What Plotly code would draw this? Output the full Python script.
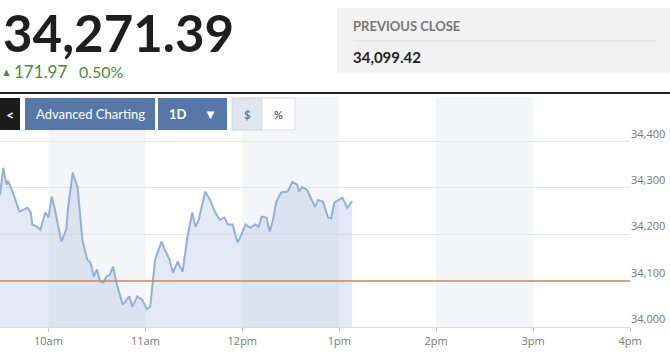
import plotly.graph_objects as go

# ---- data ----
times = ["09:30","09:32","09:34","09:35","09:38","09:42","09:47","09:49","09:50","09:53","09:55","09:58",
         "10:00","10:02","10:04","10:08","10:11","10:12","10:15","10:18","10:21","10:24","10:26","10:28",
         "10:30","10:32","10:34","10:36","10:38","10:40","10:42","10:46","10:50","10:52","10:55","10:58",
         "11:01","11:03","11:06","11:10","11:12","11:15","11:17","11:20","11:23","11:26","11:29","11:31",
         "11:33","11:36","11:37","11:40","11:43","11:46","11:49","11:51","11:54","11:57","11:58","12:02",
         "12:05","12:08","12:10","12:12","12:15","12:17","12:19","12:21","12:24","12:28","12:31","12:34",
         "12:35","12:37","12:40","12:43","12:45","12:47","12:50","12:53","12:55","12:57","13:02","13:05","13:08"]
prices = [34285,34343,34307,34315,34290,34249,34257,34247,34221,34216,34210,34247,
          34236,34281,34253,34184,34210,34253,34333,34302,34188,34145,34139,34109,
          34124,34098,34096,34109,34113,34130,34096,34048,34066,34044,34066,34059,
          34038,34044,34145,34184,34167,34145,34117,34141,34119,34193,34247,34216,
          34231,34281,34292,34274,34249,34231,34236,34221,34221,34182,34188,34221,
          34214,34221,34216,34238,34236,34206,34231,34270,34290,34292,34313,34307,
          34292,34302,34296,34274,34259,34274,34270,34236,34234,34268,34279,34257,34271.39]
prev_close = 34099.42
last_price = "34,271.39"
change = "171.97"
change_pct = "0.50%"
y_ticks = [34000, 34100, 34200, 34300, 34400]
y_tick_labels = ["34,000", "34,100", "34,200", "34,300", "34,400"]
x_ticks = ["10:00", "11:00", "12:00", "13:00", "14:00", "15:00", "16:00"]
x_tick_labels = ["10am", "11am", "12pm", "1pm", "2pm", "3pm", "4pm"]
bands = [("10:00", "11:00"), ("12:00", "13:00"), ("14:00", "15:00")]

D = "2021-06-01 "
xs = [D + t for t in times]

fig = go.Figure()
fig.add_trace(go.Scatter(
    x=xs, y=prices, mode="lines", fill="tozeroy",
    line=dict(color="#93afda", width=2),
    fillcolor="rgba(178,196,228,0.36)", hoverinfo="skip"))

# geometry helpers (pixels -> paper)
L, R, T, B = 0, 40, 97, 29
W, H = 670, 356
PW, PH = W - L - R, H - T - B
def px(x): return (x - L) / PW
def py(y): return (H - B - y) / PH

shapes = []
for a, b in bands:
    shapes.append(dict(type="rect", xref="x", yref="paper", x0=D + a, x1=D + b, y0=0, y1=1,
                       fillcolor="#f4f5f8", line=dict(width=0), layer="below"))
shapes.append(dict(type="line", xref="paper", yref="y", x0=0, x1=1, y0=prev_close, y1=prev_close,
                   line=dict(color="#d7864c", width=1.5), layer="above"))
# header widgets
shapes.append(dict(type="rect", xref="paper", yref="paper", x0=px(337), x1=px(670), y0=py(73), y1=py(8),
                   fillcolor="#f2f2f2", line=dict(width=0)))
shapes.append(dict(type="line", xref="paper", yref="paper", x0=px(353), x1=px(657), y0=py(41), y1=py(41),
                   line=dict(color="#dcdcdc", width=1)))
shapes.append(dict(type="line", xref="paper", yref="paper", x0=px(0), x1=px(670), y0=py(93), y1=py(93),
                   line=dict(color="#222222", width=2)))
shapes.append(dict(type="rect", xref="paper", yref="paper", x0=px(0), x1=px(20), y0=py(130), y1=py(98),
                   fillcolor="#1c1c1c", line=dict(width=0)))
shapes.append(dict(type="rect", xref="paper", yref="paper", x0=px(25), x1=px(155), y0=py(130), y1=py(98),
                   fillcolor="#5677a7", line=dict(width=0)))
shapes.append(dict(type="rect", xref="paper", yref="paper", x0=px(158), x1=px(227), y0=py(130), y1=py(98),
                   fillcolor="#5677a7", line=dict(width=0)))
shapes.append(dict(type="rect", xref="paper", yref="paper", x0=px(232), x1=px(262), y0=py(130), y1=py(98),
                   fillcolor="#dfe6f0", line=dict(color="#cfd6e0", width=1)))
shapes.append(dict(type="rect", xref="paper", yref="paper", x0=px(262), x1=px(295), y0=py(130), y1=py(98),
                   fillcolor="#ffffff", line=dict(color="#dcdcdc", width=1)))

ann = []
def text(x, y, s, size, color, anchor="left", bold=False, family="Lato"):
    ann.append(dict(xref="paper", yref="paper", x=px(x), y=py(y), text=("<b>%s</b>" % s) if bold else s,
                    showarrow=False, xanchor=anchor, yanchor="middle", borderpad=0,
                    font=dict(size=size, color=color, family=family)))

text(2, 32, last_price, 51, "#1e1e1e", bold=True)
text(6, 71, "▲", 11, "#4e8a3c", anchor="center")
text(13, 71, change, 17, "#4e8a3c")
text(78, 71, change_pct, 16, "#4e8a3c")
text(352, 26, "PREVIOUS CLOSE", 13, "#777777", bold=True)
text(352, 57, "34,099.42", 15, "#222222", bold=True)
text(10, 114, "<", 14, "#ffffff", anchor="center", bold=True)
text(90, 114, "Advanced Charting", 13, "#ffffff", anchor="center")
text(178, 114, "1D", 13, "#ffffff", anchor="center", bold=True)
text(210, 114, "▼", 13, "#ffffff", anchor="center")
text(247, 114, "$", 11, "#5677a7", anchor="center", bold=True)
text(278, 114, "%", 11, "#333333", anchor="center")

fig.update_layout(
    width=W, height=H, margin=dict(l=L, r=R, t=T, b=B),
    paper_bgcolor="white", plot_bgcolor="white", showlegend=False,
    shapes=shapes, annotations=ann,
    xaxis=dict(type="date", range=[D + "09:30", D + "16:00"],
               tickvals=[D + t for t in x_ticks], ticktext=x_tick_labels,
               showgrid=False, showline=True, linecolor="#dddddd", linewidth=1,
               ticks="outside", ticklen=4, tickcolor="#cccccc",
               tickfont=dict(size=11, color="#777777", family="Open Sans"), zeroline=False),
    yaxis=dict(range=[34000, 34496], side="right", tickvals=y_ticks, ticktext=y_tick_labels,
               ticklabelposition="outside top", showgrid=True, gridcolor="#e6e6e6", gridwidth=1,
               zeroline=False, ticks="", tickfont=dict(size=11, color="#777777", family="Open Sans")),
)

fig.write_html("out.html", config={"displayModeBar": False},
               post_script="document.body.style.margin='0';")
